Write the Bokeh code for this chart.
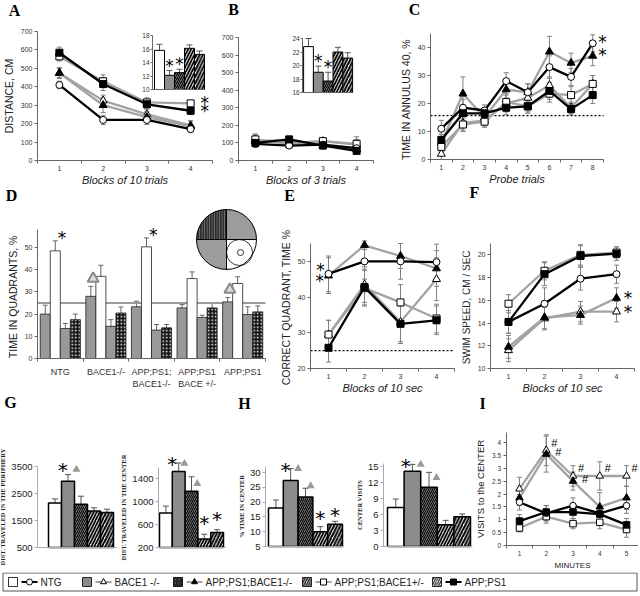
import math
from bokeh.plotting import figure
from bokeh.models import (Range1d, FixedTicker, Whisker, ColumnDataSource, LinearAxis,
                          TeeHead, LabelSet, Label)
from bokeh.layouts import column, row
from bokeh.embed import file_html
from bokeh.resources import INLINE
from bokeh.core.properties import value

# ------------------------------------------------------------------ data
GROUPS = ["NTG", "BACE1 -/-", "APP;PS1;BACE1-/-", "APP;PS1;BACE1+/-", "APP;PS1"]

A_x = [1, 2, 3, 4]
A_mean = [[410, 220, 220, 170], [475, 325, 250, 190], [475, 300, 235, 185],
          [565, 430, 315, 310], [585, 415, 305, 270]]
A_err = [[20, 25, 25, 15], [25, 30, 30, 25], [30, 40, 30, 30],
         [25, 35, 25, 15], [30, 35, 25, 20]]
A_inset = [15.8, 12.1, 12.5, 16.1, 15.2]
A_inset_err = [0.9, 0.7, 0.5, 0.5, 0.5]

B_x = [1, 2, 3, 4]
B_mean = [[95, 85, 90, 70], [110, 100, 110, 90], [115, 110, 85, 65],
          [120, 95, 110, 95], [100, 120, 85, 55]]
B_err = [[20, 15, 15, 15], [30, 20, 20, 45], [35, 20, 20, 30],
         [30, 20, 20, 25], [25, 20, 15, 15]]
B_inset = [22.8, 19.0, 17.7, 22.0, 21.1]
B_inset_err = [1.2, 0.9, 1.3, 0.7, 0.8]

C_x = [1, 2, 3, 4, 5, 6, 7, 8]
C_mean = [[11, 18.5, 17.5, 28, 24, 33, 29.5, 41.5],
          [2, 13, 14, 20, 22, 26.5, 18.5, 27],
          [6, 23.5, 15, 25, 24, 38.5, 34.5, 37],
          [4.5, 12.5, 13.5, 20.5, 19, 23.5, 23, 27],
          [7, 16.5, 16.5, 18.5, 19, 24.5, 18, 23]]
C_err = [[3, 3, 2, 3, 3, 4, 3, 3],
         [2, 3, 2, 3, 3, 3, 2, 3],
         [3, 6, 2, 3, 3, 5.5, 3.5, 3.5],
         [2, 2, 2, 3, 2, 3, 3, 3],
         [3, 3, 2, 2.5, 2.5, 3, 2, 3]]
C_chance = 15.7

D_groups = ["NTG", "BACE1-/-", "APP;PS1;\nBACE1-/-", "APP;PS1\nBACE +/-", "APP;PS1"]
D_mean = [[20, 48.5, 13.5, 17.5], [28, 37, 14.5, 20.5], [23.3, 50.3, 12.8, 13.8],
          [22.8, 36, 18.5, 22.8], [25.5, 33.8, 19.8, 21]]
D_err = [[4, 4.5, 2.3, 2.5], [4.5, 5, 3, 2.7], [2.5, 4, 2.5, 1.5],
         [1.5, 3, 1, 2.3], [2, 3, 3.5, 2.7]]
D_chance = 25

E_x = [1, 2, 3, 4]
E_mean = [[46.5, 50, 50, 49.8], [29.5, 43.5, 33, 45], [46, 54.5, 51.5, 48],
          [29.5, 42.5, 38.5, 34], [25.8, 42.8, 32.5, 33.5]]
E_err = [[5, 5, 5, 5], [4, 5, 6, 6], [5, 1.2, 3.5, 5], [4, 5, 5, 4], [4, 5, 5, 4]]
E_chance = 25

F_x = [1, 2, 3, 4]
F_mean = [[14.1, 15.7, 17.9, 18.3], [11.6, 14.4, 15.0, 15.0], [11.9, 14.5, 14.7, 16.2],
          [15.7, 18.6, 20.0, 20.2], [14.1, 18.3, 19.9, 20.1]]
F_err = [[1.0, 1.4, 1.0, 0.8], [1.0, 1.0, 0.9, 0.9], [1.0, 1.0, 0.8, 0.9],
         [0.8, 0.8, 0.9, 0.5], [1.0, 1.0, 0.9, 0.6]]

G_periphery = [2150, 2950, 2100, 1850, 1800]
G_periphery_err = [150, 250, 300, 120, 120]
G_center = [800, 1520, 1180, 350, 460]
G_center_err = [120, 150, 250, 80, 50]
H_time = [18, 27.3, 21.7, 10, 12.5]
H_time_err = [2.7, 4, 3, 1.7, 1]
H_visits = [7.3, 14.1, 11.1, 4.1, 5.6]
H_visits_err = [1.6, 1.3, 2.8, 0.8, 0.5]

I_x = [1, 2, 3, 4, 5]
I_mean = [[1.68, 1.25, 1.55, 1.25, 1.55], [2.2, 3.7, 2.7, 2.7, 2.7],
          [1.85, 3.55, 2.5, 1.5, 1.85], [0.68, 1.12, 0.85, 0.9, 0.62],
          [0.95, 1.3, 1.3, 1.22, 0.8]]
I_err = [[0.3, 0.3, 0.3, 0.3, 0.3], [0.45, 0.6, 0.4, 0.55, 0.4],
         [0.3, 0.7, 0.35, 0.55, 0.45], [0.15, 0.25, 0.2, 0.25, 0.3],
         [0.25, 0.25, 0.25, 0.25, 0.25]]
# '#' marks : (x index, series index)
I_hash = [(1, 1), (1, 2), (2, 1), (2, 2), (3, 1), (4, 1)]

# ------------------------------------------------------------------ styles
LINE_COLOR = ["#000000", "#a3a3a3", "#a3a3a3", "#a3a3a3", "#000000"]
MARKER = ["circle", "triangle", "triangle", "square", "square"]
MARKER_FILL = ["white", "white", "black", "white", "black"]
DRAW_ORDER = [1, 2, 3, 0, 4]
BAR_FILL = ["white", "#8c8c8c", "#6a6a6a", "#c4c4c4", "white"]
BAR_HATCH = [None, None, "right_diagonal_line", "right_diagonal_line", "right_diagonal_line"]
BAR_HATCH_SCALE = [1, 1, 4, 6, 6.5]
BAR_HATCH_WEIGHT = [1, 1, 1.0, 1.6, 2.0]
LEG_HATCH_SCALE = [1, 1, 3.5, 4.5, 4.5]
Q_FILL = ["#999999", "white", "#999999", "#151515"]
Q_OFFSET = [-0.33, -0.11, 0.11, 0.33]
SANS = "Liberation Sans"
SERIF = "Liberation Serif"
ERR_COLOR = "#808080"
MAPS = {}


def lin(p0, v0, p1, v1):
    k = (v1 - v0) / (p1 - p0)
    return lambda px: v0 + (px - p0) * k


def style_axis(ax, size="7px"):
    ax.major_label_text_font = SANS
    ax.major_label_text_font_size = size
    ax.major_label_text_color = "#333333"
    ax.axis_line_color = "#666666"
    ax.major_tick_line_color = "#666666"
    ax.minor_tick_line_color = "#666666"
    ax.major_tick_in = 0
    ax.major_tick_out = 3
    ax.minor_tick_in = 0
    ax.minor_tick_out = 0
    ax.major_label_standoff = 2
    ax.axis_label_standoff = 3
    ax.axis_label_text_font = SANS
    ax.axis_label_text_font_style = "normal"
    ax.axis_label_text_font_size = "10.5px"
    ax.axis_label_text_color = "#222222"


def make_panel(ox, oy, w, h, xanch, yanch, xaxis_at, yaxis_at, xbounds, ybounds):
    """Canvas = plot frame; axes sit at fixed data locations inside it.
    xanch / yanch: (pixel, value, pixel, value) anchors in page pixels."""
    fx = lin(*xanch)
    fy = lin(*yanch)
    p = figure(width=w, height=h, x_range=Range1d(fx(ox), fx(ox + w)),
               y_range=Range1d(fy(oy + h), fy(oy)), output_backend="svg",
               toolbar_location=None, min_border=0)
    p.grid.visible = False
    p.outline_line_color = None
    p.extra_x_ranges = {"px": Range1d(ox, ox + w)}
    p.extra_y_ranges = {"px": Range1d(-(oy + h), -oy)}
    for ax in p.axis:
        style_axis(ax)
    p.xaxis[0].fixed_location = xaxis_at
    p.xaxis[0].bounds = xbounds
    p.yaxis[0].fixed_location = yaxis_at
    p.yaxis[0].bounds = ybounds
    MAPS[id(p)] = (fx, fy, ox, oy, w, h)
    return p


def plabel(p, txt, px, py):
    fx, fy = MAPS[id(p)][:2]
    p.add_layout(Label(x=fx(px), y=fy(py), text=txt, text_font=SERIF, text_font_size="16px",
                       text_font_style="bold", text_color="black", text_align="center",
                       text_baseline="middle"))


def line_panel(ox, oy, w, h, n, x0px, x1px, ytop_px, ytop_v, ybot_px, ybot_v,
               yticks, xlabel, ylabel, axis_top=None):
    p = make_panel(ox, oy, w, h, (x0px, 0.5, x1px, n + 0.5),
                   (ytop_px, ytop_v, ybot_px, ybot_v), ybot_v, 0.5, (0.5, n + 0.5),
                   (ybot_v, axis_top if axis_top is not None else ytop_v))
    xa = p.xaxis[0]
    ya = p.yaxis[0]
    xa.ticker = FixedTicker(ticks=list(range(1, n + 1)),
                            minor_ticks=[k + 0.5 for k in range(n + 1)])
    xa.major_tick_out = 0
    xa.minor_tick_out = 3
    xa.major_label_standoff = 2
    xa.axis_label = xlabel
    xa.axis_label_text_font_style = "italic"
    xa.axis_label_text_font_size = "11px"
    xa.axis_label_standoff = 0
    ya.ticker = FixedTicker(ticks=yticks)
    ya.axis_label = ylabel
    return p


def whisk(p, xs, mids, errs, color=ERR_COLOR, size=5, rn=None):
    src = ColumnDataSource(dict(x=xs, lo=[m - e for m, e in zip(mids, errs)],
                                hi=[m + e for m, e in zip(mids, errs)]))
    kw = dict(x_range_name=rn, y_range_name=rn) if rn else {}
    p.add_layout(Whisker(source=src, base="x", lower="lo", upper="hi",
                         line_color=color, line_width=1,
                         upper_head=TeeHead(size=size, line_color=color, line_width=1),
                         lower_head=TeeHead(size=size, line_color=color, line_width=1), **kw))


def draw_lines(p, xs, means, errs, msize=7):
    for i in DRAW_ORDER:
        whisk(p, xs, means[i], errs[i])
    for i in DRAW_ORDER:
        p.line(xs, means[i], line_color=LINE_COLOR[i], line_width=2.3)
        sz = msize + 1 if MARKER[i] == "triangle" else msize
        p.scatter(xs, means[i], marker=MARKER[i], size=sz, fill_color=MARKER_FILL[i],
                  line_color="black", line_width=1)


def marks(p, xs, ys, txt, size="17px", color="black", rn=None, font="DejaVu Sans"):
    src = ColumnDataSource(dict(x=list(xs), y=list(ys), t=[txt] * len(xs)))
    kw = dict(x_range_name=rn, y_range_name=rn) if rn else {}
    p.add_layout(LabelSet(x="x", y="y", text="t", source=src, text_align="center",
                          text_baseline="middle", text_font_size=size,
                          text_color=color, text_font=value(font), **kw))


def bars5(p, vals, errs, base, lw=1.5, rn=None, width=1.0):
    kw = dict(x_range_name=rn, y_range_name=rn) if rn else {}
    for i in range(5):
        hk = {}
        if BAR_HATCH[i]:
            hk = dict(hatch_pattern=BAR_HATCH[i], hatch_color="black",
                      hatch_scale=BAR_HATCH_SCALE[i], hatch_weight=BAR_HATCH_WEIGHT[i])
        p.vbar(x=[i + 1], top=[vals[i]], bottom=base, width=width, fill_color=BAR_FILL[i],
               line_color="black", line_width=lw, **hk, **kw)
    whisk(p, [k + 1 for k in range(5)], vals, errs, color="#555555", size=6, rn=rn)


def inset(p, xanch, yanch, vals, errs, ticks, axis_x, star_idx):
    _, _, ox, oy, w, h = MAPS[id(p)]
    fx = lin(*xanch)
    fy = lin(*yanch)
    p.extra_x_ranges["ins"] = Range1d(fx(ox), fx(ox + w))
    p.extra_y_ranges["ins"] = Range1d(fy(oy + h), fy(oy))
    bars5(p, vals, errs, ticks[0], lw=1, rn="ins")
    ya = LinearAxis(x_range_name="ins", y_range_name="ins", fixed_location=axis_x,
                    bounds=(ticks[0], ticks[-1]), ticker=FixedTicker(ticks=ticks))
    style_axis(ya, "6.5px")
    ya.major_tick_out = 2
    ya.major_label_standoff = 1
    p.add_layout(ya, "left")
    xa = LinearAxis(x_range_name="ins", y_range_name="ins", fixed_location=ticks[0],
                    bounds=(axis_x, 5.5), ticker=FixedTicker(ticks=[]))
    style_axis(xa)
    xa.major_tick_out = 0
    xa.major_label_text_font_size = "0px"
    p.add_layout(xa, "below")
    marks(p, [k + 1 for k in star_idx],
          [vals[k] + errs[k] + (ticks[-1] - ticks[0]) * 0.09 for k in star_idx], "*", rn="ins")


# ------------------------------------------------------------------ row 1  (y 0..185)
pA = line_panel(0, 0, 218, 185, 4, 37, 212, 31, 700, 160, 0, list(range(0, 701, 100)),
                "Blocks of 10 trials", "DISTANCE, CM")
draw_lines(pA, A_x, A_mean, A_err)
marks(pA, [4.32, 4.32], [A_mean[3][3], A_mean[4][3]], "*")
inset(pA, (159, 1, 169, 2), (89, 10, 35, 18), A_inset, A_inset_err,
      [10, 12, 14, 16, 18], 0.3, [1, 2])
plabel(pA, "A", 14, 10)

pB = line_panel(218, 0, 177, 185, 4, 238, 373, 37, 700, 160, 0, list(range(0, 701, 100)),
                "Blocks of 3 trials", "")
draw_lines(pB, B_x, B_mean, B_err)
inset(pB, (308, 1, 317.8, 2), (92, 16, 38, 24), B_inset, B_inset_err,
      [16, 18, 20, 22, 24], 0.4, [1, 2])
plabel(pB, "B", 233, 9)

pC = line_panel(395, 0, 243, 185, 8, 430, 603, 33, 45, 159, 0, [0, 10, 20, 30, 40],
                "Probe trials", "TIME  IN  ANNULUS 40, %")
pC.segment(x0=[0.5], x1=[8.5], y0=[C_chance], y1=[C_chance], line_color="black",
           line_width=1.2, line_dash="2 2")
draw_lines(pC, C_x, C_mean, C_err)
marks(pC, [8.45, 8.45], [C_mean[0][7] + 0.5, C_mean[2][7] + 0.5], "*")
plabel(pC, "C", 414, 9)

# ------------------------------------------------------------------ row 2  (y 185..394)
pD = make_panel(0, 185, 280, 209, (37, 0.5, 265, 5.5), (247, 50, 358, 0), 0, 0.5,
                (0.5, 5.5), (0, 58))
xa = pD.xaxis[0]
xa.ticker = FixedTicker(ticks=[1, 2, 3, 4, 5], minor_ticks=[0.5, 1.5, 2.5, 3.5, 4.5, 5.5])
xa.major_tick_out = 0
xa.minor_tick_out = 3
xa.major_label_overrides = {k + 1: g for k, g in enumerate(D_groups)}
xa.major_label_text_font_size = "9px"
xa.major_label_standoff = 5
ya = pD.yaxis[0]
ya.ticker = FixedTicker(ticks=[0, 10, 20, 30, 40, 50])
ya.axis_label = "TIME  IN  QUADRANTS, %"
pD.segment(x0=[0.5], x1=[5.5], y0=[D_chance], y1=[D_chance], line_color="#9a9a9a",
           line_width=2)
for q in range(4):
    xs = [g + 1 + Q_OFFSET[q] for g in range(5)]
    tops = [D_mean[g][q] for g in range(5)]
    hk = dict(hatch_pattern="dot", hatch_color="white", hatch_scale=3.5,
              hatch_weight=1) if q == 3 else {}
    pD.vbar(x=xs, top=tops, bottom=0, width=0.22, fill_color=Q_FILL[q],
            line_color="#222222", line_width=0.8, **hk)
    whisk(pD, xs, tops, [D_err[g][q] for g in range(5)], color="#666666")
marks(pD, [1 + Q_OFFSET[1] + 0.15, 3 + Q_OFFSET[1] + 0.15],
      [D_mean[0][1] + D_err[0][1] + 1.5, D_mean[2][1] + D_err[2][1] + 1.5], "*")
pD.scatter([2 + Q_OFFSET[0] + 0.05, 5 + Q_OFFSET[0] + 0.05],
           [D_mean[1][0] + D_err[1][0] + 3.5, D_mean[4][0] + D_err[4][0] + 3.5],
           marker="triangle", size=11, fill_color="#dddddd", line_color="#888888",
           line_width=2)
# pool diagram (page-pixel coordinates)
PIE_FILL = ["#9c9c9c", "#2b2b2b", "#9c9c9c", "white"]
for k in range(4):
    hk = dict(hatch_pattern="vertical_line", hatch_color="#9a9a9a", hatch_scale=2.5,
              hatch_weight=0.7) if k == 1 else {}
    pD.wedge(x=[226], y=[-239], radius=30, radius_units="screen",
             start_angle=k * math.pi / 2, end_angle=(k + 1) * math.pi / 2,
             fill_color=PIE_FILL[k], line_color="black", line_width=1,
             x_range_name="px", y_range_name="px", **hk)
pD.scatter([239], [-252], marker="circle", size=26, fill_color=None, line_color="black",
           line_width=0.8, x_range_name="px", y_range_name="px")
pD.scatter([240], [-252], marker="circle", size=6, fill_color=None, line_color="black",
           line_width=0.8, x_range_name="px", y_range_name="px")
plabel(pD, "D", 11, 195)

pE = line_panel(280, 185, 182, 209, 4, 310, 454, 243, 55, 368, 20, [20, 30, 40, 50],
                "Blocks of 10 sec", "CORRECT  QUADRANT, TIME %")
pE.segment(x0=[0.5], x1=[4.5], y0=[E_chance], y1=[E_chance], line_color="black",
           line_width=1.2, line_dash="2 2")
draw_lines(pE, E_x, E_mean, E_err)
marks(pE, [0.78, 0.76], [E_mean[0][0] + 1.2, E_mean[2][0] - 1.4], "*")
plabel(pE, "E", 289, 195)

pF = line_panel(462, 185, 176, 209, 4, 490, 634, 243, 21, 368, 10,
                [10, 12, 14, 16, 18, 20], "Blocks of 10 sec", "SWIM  SPEED, CM / SEC")
pF.yaxis[0].axis_label_text_font_size = "10px"
draw_lines(pF, F_x, F_mean, F_err)
marks(pF, [4.32, 4.32], [F_mean[2][3], F_mean[1][3]], "*")
plabel(pF, "F", 474, 192)


# ------------------------------------------------------------------ row 3  (y 394..572)
def bar_panel(ox, w, axis_px, bar1_px, unit, x_end, ytop_px, ytop_v, ybot_px, ybot_v,
              ticks, label, axis_top):
    xanch = (bar1_px, 1, bar1_px + unit, 2)
    fx = lin(*xanch)
    p = make_panel(ox, 394, w, 178, xanch, (ytop_px, ytop_v, ybot_px, ybot_v),
                   ybot_v, fx(axis_px), (fx(axis_px), x_end), (ybot_v, axis_top))
    xa = p.xaxis[0]
    xa.ticker = FixedTicker(ticks=[])
    xa.major_label_text_font_size = "0px"
    xa.axis_line_color = "#aaaaaa"
    ya = p.yaxis[0]
    ya.ticker = FixedTicker(ticks=ticks)
    ya.major_label_text_font_size = "9.5px"
    ya.major_label_text_color = "#222222"
    ya.axis_line_color = "#aaaaaa"
    ya.major_tick_line_color = "#aaaaaa"
    ya.axis_label = label
    ya.axis_label_text_font = SERIF
    ya.axis_label_text_font_style = "bold"
    ya.axis_label_text_font_size = "6.5px"
    ya.axis_label_standoff = 2
    return p


pG1 = bar_panel(0, 118, 37, 54.5, 13, 5.73, 466, 3500, 547, 500,
                [500, 1500, 2500, 3500], "DIST. TRAVELED IN THE PERIPHERY", 3500)
bars5(pG1, G_periphery, G_periphery_err, 500)
marks(pG1, [1.6], [G_periphery[1] + G_periphery_err[1] + 170], "*", size="20px")
pG1.scatter([2.65], [G_periphery[1] + G_periphery_err[1] + 190], marker="triangle",
            size=8, fill_color="#999999", line_color=None)
plabel(pG1, "G", 10, 402)

pG2 = bar_panel(118, 110, 158, 165.4, 12.8, 5.66, 478, 1400, 547, 200,
                [200, 600, 1000, 1400], "DIST. TRAVELED IN THE CENTER", 1600)
bars5(pG2, G_center, G_center_err, 200)
marks(pG2, [1.5, 4, 5], [G_center[1] + G_center_err[1] - 20,
                         G_center[3] + G_center_err[3] + 200,
                         G_center[4] + G_center_err[4] + 190], "*", size="20px")
pG2.scatter([2.45, 3.45], [G_center[1] + G_center_err[1] - 10, G_center[2] + 130],
            marker="triangle", size=8, fill_color="#999999", line_color=None)

pH1 = bar_panel(228, 118, 265, 275.4, 14.8, 5.6, 472, 30, 546, 5,
                [5, 10, 15, 20, 25, 30], "% TIME IN CENTER", 32)
bars5(pH1, H_time, H_time_err, 5)
marks(pH1, [1.65, 4, 5], [H_time[1] + H_time_err[1] - 0.5,
                          H_time[3] + H_time_err[3] + 2.8,
                          H_time[4] + H_time_err[4] + 2.0], "*", size="20px")
pH1.scatter([2.5, 3.35], [H_time[1] + H_time_err[1], H_time[2] + H_time_err[2] + 0.8],
            marker="triangle", size=8, fill_color="#999999", line_color=None)
plabel(pH1, "H", 244, 403)

pH2 = bar_panel(346, 130, 383, 395.3, 16.6, 5.65, 466, 15, 546, 0,
                [0, 3, 6, 9, 12, 15], "CENTER VISITS", 15.6)
bars5(pH2, H_visits, H_visits_err, 0)
marks(pH2, [1.6], [H_visits[1] + H_visits_err[1] - 0.3], "*", size="20px")
pH2.scatter([2.5, 3.45], [H_visits[1] + H_visits_err[1], H_visits[2] + H_visits_err[2] - 1.0],
            marker="triangle", size=8, fill_color="#999999", line_color=None)

pI = line_panel(476, 394, 162, 178, 5, 505.6, 639.4, 442, 4, 545, 0,
                [0, 0.5, 1, 1.5, 2, 2.5, 3, 3.5, 4], "MINUTES", "VISITS to the CENTER",
                axis_top=4.4)
pI.xaxis[0].axis_label_text_font_style = "normal"
pI.xaxis[0].axis_label_text_font_size = "8px"
pI.xaxis[0].axis_label_standoff = 2
pI.yaxis[0].axis_label_text_font_size = "9.5px"
pI.yaxis[0].major_label_text_font_size = "6.5px"
pI.xaxis[0].major_label_text_font_size = "6.5px"
draw_lines(pI, I_x, I_mean, I_err, msize=6.5)
marks(pI, [I_x[k] + (0.3 if s == 1 else 0.45) for k, s in I_hash],
      [I_mean[s][k] + (0.3 if s == 1 else 0.1) for k, s in I_hash], "#", size="11px",
      font="Liberation Sans")
plabel(pI, "I", 482, 403)

# ------------------------------------------------------------------ legend (y 572..594)
L_X0 = [8, 82, 173, 302, 432]
pL = figure(width=638, height=22, x_range=Range1d(0, 638), y_range=Range1d(0, 22),
            output_backend="svg", toolbar_location=None, min_border=0,
            x_axis_location=None, y_axis_location=None)
pL.grid.visible = False
pL.outline_line_color = None
pL.quad(left=[2.5], right=[636.5], bottom=[3.5], top=[21.5], fill_color=None,
        line_color="#555555", line_width=1)
for i in range(5):
    x0 = L_X0[i]
    hk = {}
    if BAR_HATCH[i]:
        hk = dict(hatch_pattern=BAR_HATCH[i], hatch_color="black",
                  hatch_scale=LEG_HATCH_SCALE[i], hatch_weight=1)
    pL.rect(x=[x0 + 4.5], y=[12.5], width=9, height=9, width_units="screen",
            height_units="screen", fill_color=BAR_FILL[i], line_color="black",
            line_width=0.8, **hk)
    pL.line([x0 + 13, x0 + 29], [12.5, 12.5], line_color=LINE_COLOR[i], line_width=2)
    pL.scatter([x0 + 21], [12.5], marker=MARKER[i], size=6, fill_color=MARKER_FILL[i],
               line_color="black", line_width=1)
    pL.text(x=[x0 + 32], y=[12.5], text=[GROUPS[i]], text_baseline="middle",
            text_font=value(SANS), text_font_size="10px", text_color="#222222")

layout = column(row(pA, pB, pC), row(pD, pE, pF), row(pG1, pG2, pH1, pH2, pI), pL)
open("out.html", "w").write(file_html(layout, INLINE))
